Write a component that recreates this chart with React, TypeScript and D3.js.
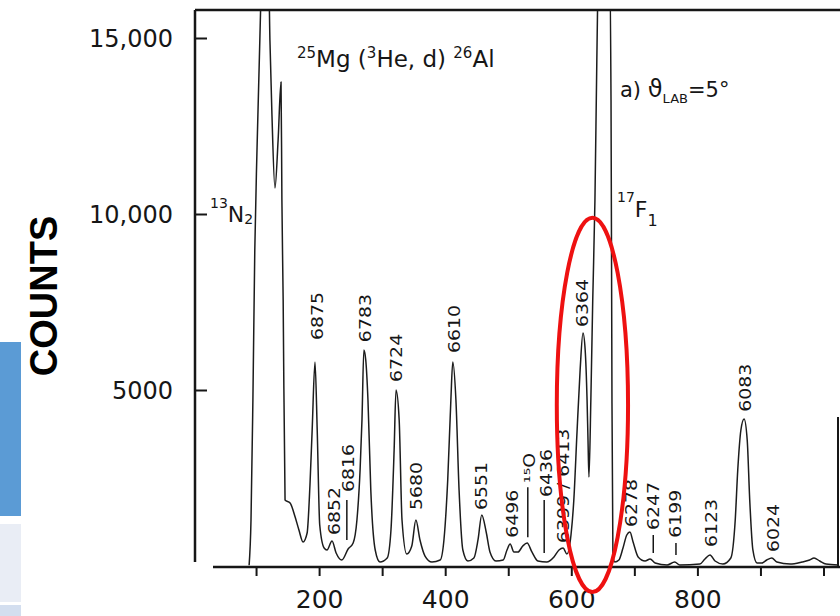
import React from "react";
import * as d3 from "d3";

// spectrum trace (channel, counts)
const channels = [
  89, 92, 95, 98, 101.5, 106, 111, 119, 122, 125,
  130, 135, 139.6, 141, 143, 146, 154, 162, 168, 174.5,
  181, 185.5, 189, 193.5, 197, 201, 208, 212.5, 220.5, 227,
  236, 246, 254, 260, 265, 268, 271, 274, 277.5, 282,
  289, 296.5, 308, 314, 319, 322, 327, 331.5, 339, 347,
  353.5, 360, 368, 379, 392, 398, 404, 409, 412, 417,
  422, 428, 436, 445.5, 452, 458, 465, 471, 480.5, 492,
  498, 503, 509, 515.5, 523, 530, 537.5, 547, 561, 572.5,
  580.5, 587, 593, 599.5, 604, 609, 614, 618.5, 622, 625,
  626.5, 628, 631, 634, 637.5, 640.5, 644, 660, 663, 664.5,
  666, 669, 675.5, 682, 688, 693, 698, 706, 717, 725,
  733, 752, 764, 772, 804, 812, 820, 828, 840.5, 853,
  860, 864, 869, 874, 879, 883, 888, 894.5, 902, 910,
  918, 926, 947, 966, 978, 985, 994, 1004, 1023,
];
const counts = [
  20, 1307, 4716, 8978, 11819, 14944, 17800, 17800, 14944, 12955,
  10739, 12103, 13750, 10398, 7557, 1875, 1790, 1392, 1023, 682,
  938, 2301, 3864, 5796, 3864, 1165, 511, 455, 710, 369,
  170, 483, 653, 1307, 2727, 4148, 6137, 5852, 4716, 2159,
  455, 114, 227, 1023, 3296, 5000, 4148, 1307, 341, 568,
  1307, 739, 284, 114, 170, 739, 2443, 4716, 5796, 4716,
  2159, 455, 142, 227, 739, 1449, 966, 398, 142, 170,
  455, 625, 398, 398, 568, 653, 398, 142, 114, 256,
  455, 511, 341, 881, 1875, 3779, 5568, 6620, 6137, 4716,
  3580, 2528, 4716, 7557, 10398, 14375, 17800, 17800, 13239, 4716,
  312, 114, 170, 511, 881, 966, 682, 256, 142, 199,
  85, 28, 114, 28, 57, 199, 312, 142, 57, 227,
  1307, 2727, 3864, 4176, 3580, 1875, 455, 85, 85, 170,
  227, 114, 57, 114, 170, 227, 142, 57, 28,
];

const xTickValues = [100, 200, 300, 400, 500, 600, 700, 800, 900, 1000];
const xTickLabels = ["", "200", "", "400", "", "600", "", "800", "", ""];
const yTickValues = [5000, 10000, 15000];
const yTickLabels = ["5000", "10,000", "15,000"];

// excitation energies (keV) written over the peaks
const peakNames = [
  "6875", "6852", "6816", "6783", "6724", "5680", "6610", "6551", "6496",
  "\u00b9\u2075O", "6436", "6399 / 6413", "6364", "6278", "6247", "6199",
  "6123", "6083", "6024",
];
const peakChannels = [
  197, 224, 247, 274, 322, 355, 414, 458, 506,
  534, 561, 587, 618, 696, 730, 766,
  823, 877, 920,
];
const peakLabelCounts = [
  6420, 880, 2100, 6360, 5230, 1590, 6050, 1590, 800,
  2360, 1960, 650, 6790, 1110, 1020, 800,
  540, 4380, 400,
];

// short leader lines under some labels
const leaderChannels = [244, 531, 557, 730, 766];
const leaderTop = [1875, 2240, 1875, 880, 650];
const leaderBottom = [740, 820, 370, 370, 310];

// hand-drawn highlight ring around the 6364 group
const ringChannels = [577, 690];
const ringCounts = [-740, 9890];

const FONT = "'DejaVu Sans', sans-serif";
const INK = "#161616";

export default function App() {
  const xAxisRef = React.useRef<SVGGElement>(null);
  const yAxisRef = React.useRef<SVGGElement>(null);

  const x = d3.scaleLinear().domain([0, 1000]).range([193, 823.5]);
  const y = d3.scaleLinear().domain([0, 15000]).range([566, 38]);

  const points = channels.map((c, i) => [c, counts[i]] as [number, number]);
  const line = d3
    .line<[number, number]>()
    .x((d) => x(d[0]))
    .y((d) => y(d[1]))
    .curve(d3.curveMonotoneX);

  React.useEffect(() => {
    const xAxis = d3
      .axisBottom(x)
      .tickValues(xTickValues)
      .tickSize(9)
      .tickPadding(14)
      .tickFormat((d, i) => xTickLabels[i]);
    const gx = d3.select(xAxisRef.current!).call(xAxis as any);
    gx.select(".domain").remove();
    gx.selectAll("line").attr("stroke", INK).attr("stroke-width", 2);
    gx.selectAll("text")
      .attr("font-family", FONT)
      .attr("font-size", 25)
      .attr("fill", INK);

    const yAxis = d3
      .axisRight(y)
      .tickValues(yTickValues)
      .tickSize(12)
      .tickFormat(() => "");
    const gy = d3.select(yAxisRef.current!).call(yAxis as any);
    gy.select(".domain").remove();
    gy.selectAll("line").attr("stroke", INK).attr("stroke-width", 2);
  }, []);

  const ringX0 = x(ringChannels[0]);
  const ringX1 = x(ringChannels[1]);
  const ringY0 = y(ringCounts[1]);
  const ringY1 = y(ringCounts[0]);

  return (
    <svg
      width={840}
      height={616}
      style={{ position: "absolute", left: 0, top: 0, background: "#fff" }}
    >
      {/* slide decorations on the left edge */}
      <rect x={0} y={342} width={21} height={174} fill="#5b9bd5" />
      <rect x={0} y={524} width={21} height={78} fill="#e9edf5" />
      <rect x={0} y={605} width={21} height={11} fill="#d3deef" />

      <defs>
        <clipPath id="plotClip">
          <rect x={196} y={11} width={642} height={556} />
        </clipPath>
      </defs>

      {/* frame */}
      <line x1={195} x2={195} y1={10} y2={562} stroke={INK} strokeWidth={2.5} />
      <line x1={195} x2={840} y1={10} y2={10} stroke={INK} strokeWidth={2.5} />
      <line x1={213} x2={840} y1={567} y2={567} stroke={INK} strokeWidth={2.5} />
      <line x1={838} x2={838} y1={417} y2={567} stroke={INK} strokeWidth={2} />

      <g ref={xAxisRef} transform="translate(0,567)" />
      <g ref={yAxisRef} transform="translate(195,0)" />

      {yTickValues.map((v, i) => (
        <text
          key={v}
          x={173}
          y={y(v)}
          dy="0.36em"
          textAnchor="end"
          fontFamily={FONT}
          fontSize={24}
          fill={INK}
        >
          {yTickLabels[i]}
        </text>
      ))}

      <text
        transform="translate(57,296) rotate(-90)"
        textAnchor="middle"
        fontFamily="'Liberation Sans', Arial, sans-serif"
        fontWeight="bold"
        fontSize={38}
        fill="#000"
      >
        COUNTS
      </text>

      {/* spectrum */}
      <path
        d={line(points) || ""}
        fill="none"
        stroke="#1c1c1c"
        strokeWidth={1.5}
        strokeLinejoin="round"
        clipPath="url(#plotClip)"
      />

      {/* peak labels */}
      {peakNames.map((name, i) => (
        <text
          key={name}
          transform={`translate(${x(peakChannels[i]) + 5.5},${y(
            peakLabelCounts[i]
          )}) rotate(-90) scale(1.26,1)`}
          fontFamily={FONT}
          fontSize={15}
          fill={INK}
        >
          {name}
        </text>
      ))}
      {leaderChannels.map((c, i) => (
        <line
          key={c}
          x1={x(c)}
          x2={x(c)}
          y1={y(leaderTop[i])}
          y2={y(leaderBottom[i])}
          stroke={INK}
          strokeWidth={1.5}
        />
      ))}

      {/* annotations */}
      <text x={297} y={67} fontFamily={FONT} fontSize={23} fill={INK}>
        <tspan fontSize={15} dy={-9}>25</tspan>
        <tspan dy={9}>Mg (</tspan>
        <tspan fontSize={15} dy={-9}>3</tspan>
        <tspan dy={9}>He, d) </tspan>
        <tspan fontSize={15} dy={-9}>26</tspan>
        <tspan dy={9}>Al</tspan>
      </text>
      <text x={620} y={97} fontFamily={FONT} fontSize={21} fill={INK}>
        <tspan>a) </tspan>
        <tspan fontSize={24}>{"\u03d1"}</tspan>
        <tspan fontSize={13} dy={6}>LAB</tspan>
        <tspan dy={-6}>=5°</tspan>
      </text>
      <text x={210} y={222} fontFamily={FONT} fontSize={22} fill={INK}>
        <tspan fontSize={14} dy={-14}>13</tspan>
        <tspan dy={14}>N</tspan>
        <tspan fontSize={14} dy={2}>2</tspan>
      </text>
      <text x={617} y={217} fontFamily={FONT} fontSize={22} fill={INK}>
        <tspan fontSize={14} dy={-15}>17</tspan>
        <tspan dy={15}>F</tspan>
        <tspan fontSize={16} dy={9}>1</tspan>
      </text>

      <ellipse
        cx={(ringX0 + ringX1) / 2}
        cy={(ringY0 + ringY1) / 2}
        rx={(ringX1 - ringX0) / 2}
        ry={(ringY1 - ringY0) / 2}
        fill="none"
        stroke="#ee1111"
        strokeWidth={4}
      />
    </svg>
  );
}
